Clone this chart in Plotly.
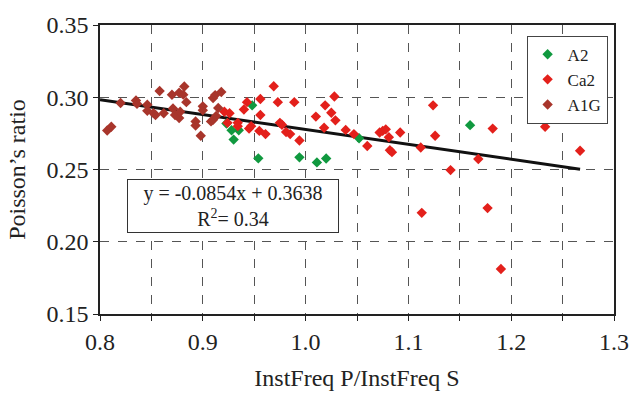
import plotly.graph_objects as go

# ---- data ----
a2_x = [0.923, 0.928, 0.935, 0.930, 0.948, 0.954, 0.994, 1.011, 1.020, 1.052, 1.160]
a2_y = [0.2818, 0.2772, 0.2772, 0.2707, 0.2944, 0.2577, 0.2584, 0.2549, 0.2576, 0.2716, 0.2807]

ca2_x = [0.921, 0.926, 0.924, 0.934, 0.934, 0.940, 0.943, 0.945, 0.947, 0.955, 0.956, 0.956,
         0.961, 0.969, 0.973, 0.975, 0.977, 0.981, 0.985, 0.989, 0.994, 1.010, 1.018, 1.019,
         1.025, 1.029, 1.028, 1.039, 1.047, 1.060, 1.072, 1.075, 1.078, 1.081, 1.082, 1.084,
         1.092, 1.112, 1.124, 1.126, 1.113, 1.141, 1.168, 1.177, 1.182, 1.190, 1.233, 1.267]
ca2_y = [0.2900, 0.2889, 0.2823, 0.2823, 0.2800, 0.2915, 0.2966, 0.2783, 0.2800, 0.2767, 0.2988, 0.2877,
         0.2745, 0.3076, 0.2966, 0.2823, 0.2810, 0.2760, 0.2745, 0.2966, 0.2701, 0.2866, 0.2789, 0.2944,
         0.2893, 0.2840, 0.3005, 0.2774, 0.2745, 0.2663, 0.2756, 0.2767, 0.2778, 0.2723, 0.2634, 0.2620,
         0.2756, 0.2652, 0.2944, 0.2734, 0.2200, 0.2496, 0.2573, 0.2233, 0.2783, 0.1811, 0.2796, 0.2630]

a1g_x = [0.807, 0.811, 0.820, 0.835, 0.836, 0.846, 0.846, 0.852, 0.854, 0.858, 0.862, 0.870,
         0.871, 0.873, 0.877, 0.877, 0.878, 0.882, 0.881, 0.884, 0.893, 0.893, 0.898, 0.900,
         0.900, 0.908, 0.910, 0.912, 0.918, 0.915, 0.910, 0.913]
a1g_y = [0.2770, 0.2796, 0.2960, 0.2977, 0.2955, 0.2948, 0.2906, 0.2890, 0.2877, 0.3043, 0.2889, 0.3017,
         0.2922, 0.2877, 0.2856, 0.3032, 0.2900, 0.3074, 0.3018, 0.2966, 0.2833, 0.2805, 0.2734, 0.2937,
         0.2910, 0.2833, 0.2995, 0.3015, 0.3036, 0.2926, 0.2844, 0.2870]

trend_x = [0.800, 1.267]
trend_y = [0.2983, 0.2502]

x_ticks = [0.8, 0.9, 1.0, 1.1, 1.2, 1.3]
x_labels = ["0.8", "0.9", "1.0", "1.1", "1.2", "1.3"]
x_minor = [0.85, 0.95, 1.05, 1.15, 1.25]
y_ticks = [0.15, 0.20, 0.25, 0.30, 0.35]
y_labels = ["0.15", "0.20", "0.25", "0.30", "0.35"]

equation_text = "y = -0.0854x + 0.3638<br>R<sup>2</sup>= 0.34"

FONT = "Liberation Serif, Times New Roman, serif"
GRID = "#555555"

fig = go.Figure()
fig.add_trace(go.Scatter(x=trend_x, y=trend_y, mode="lines",
                         line=dict(color="#111111", width=3), showlegend=False, hoverinfo="skip"))
fig.add_trace(go.Scatter(x=a2_x, y=a2_y, mode="markers", name="A2",
                         marker=dict(symbol="diamond", size=8, color="#10993f")))
fig.add_trace(go.Scatter(x=ca2_x, y=ca2_y, mode="markers", name="Ca2",
                         marker=dict(symbol="diamond", size=8, color="#e3201b")))
fig.add_trace(go.Scatter(x=a1g_x, y=a1g_y, mode="markers", name="A1G",
                         marker=dict(symbol="diamond", size=8, color="#a8352b")))

fig.add_annotation(x=0.9295, y=0.2245, xref="x", yref="y", text=equation_text,
                   showarrow=False, font=dict(family=FONT, size=20, color="#222"),
                   bgcolor="white", bordercolor="#333", borderwidth=1,
                   width=208, height=50, align="center")

axis_common = dict(showline=True, linecolor="#222", linewidth=1.5, mirror=True,
                   ticks="outside", ticklen=5, tickcolor="#222",
                   showgrid=True, gridcolor=GRID, griddash="dash", gridwidth=1,
                   zeroline=False, tickfont=dict(family=FONT, size=24, color="#222"))

fig.update_xaxes(range=[0.8, 1.3], tickvals=x_ticks, ticktext=x_labels,
                 minor=dict(tickvals=x_minor, ticks="outside", ticklen=5, tickcolor="#222",
                            showgrid=True, gridcolor=GRID, griddash="dash", gridwidth=1),
                 title=dict(text="InstFreq P/InstFreq S", font=dict(family=FONT, size=24, color="#222"),
                            standoff=16), **axis_common)
fig.update_yaxes(range=[0.15, 0.35], tickvals=y_ticks, ticktext=y_labels,
                 title=dict(text="Poisson’s ratio", font=dict(family=FONT, size=24, color="#222"),
                            standoff=14), **axis_common)

fig.update_layout(
    width=641, height=399,
    margin=dict(l=100, r=18, t=21, b=76),
    paper_bgcolor="white", plot_bgcolor="white",
    font=dict(family=FONT, color="#222"),
    legend=dict(x=0.83, y=0.963, xanchor="left", yanchor="top",
                bgcolor="white", bordercolor="#444", borderwidth=1,
                font=dict(family=FONT, size=17, color="#222")),
)

fig.write_html("out.html")
